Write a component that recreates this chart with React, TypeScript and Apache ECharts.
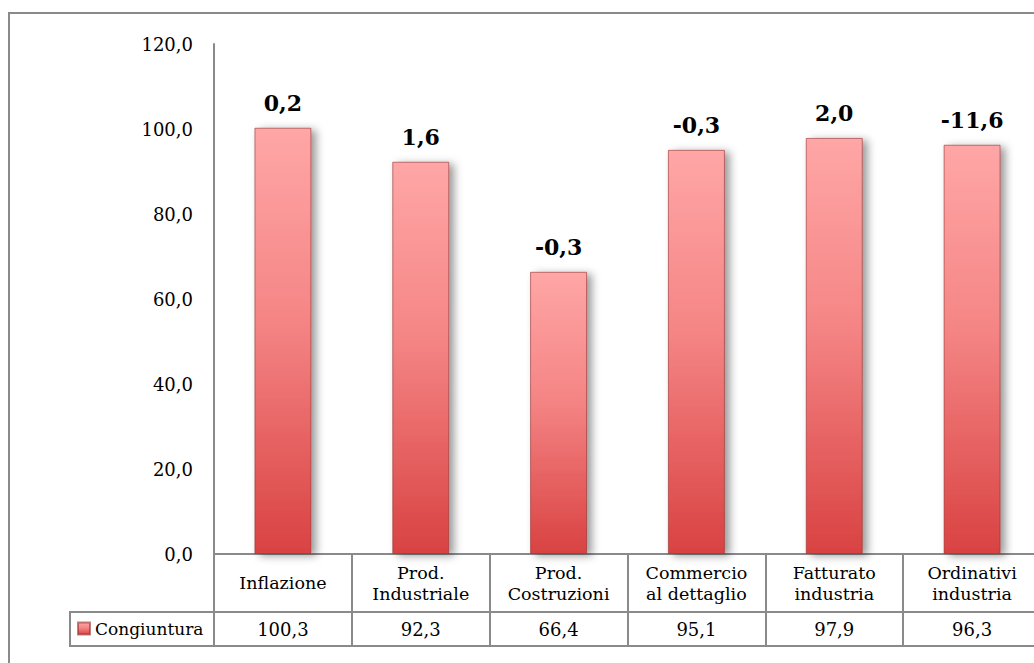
import React, { useEffect, useRef } from "react";
import * as echarts from "echarts";

const categories = [
  "Inflazione",
  "Prod.\nIndustriale",
  "Prod.\nCostruzioni",
  "Commercio\nal dettaglio",
  "Fatturato\nindustria",
  "Ordinativi\nindustria",
];
const values = [100.3, 92.3, 66.4, 95.1, 97.9, 96.3];
const changes = [0.2, 1.6, -0.3, -0.3, 2.0, -11.6];
const seriesName = "Congiuntura";
const yTicks = { min: 0, max: 120, interval: 20 };

const fmt = (v: number) => v.toFixed(1).replace(".", ",");
const FONT = "'DejaVu Serif', serif";
const LINE = "#8a8a8a";

export default function App() {
  const ref = useRef<HTMLDivElement>(null);
  useEffect(() => {
    if (!ref.current) return;
    const chart = echarts.init(ref.current, null, { renderer: "svg" });
    const gradient = new echarts.graphic.LinearGradient(0, 0, 0, 1, [
      { offset: 0, color: "#FFA6A6" },
      { offset: 0.45, color: "#F58585" },
      { offset: 1, color: "#D94242" },
    ]);
    chart.setOption({
      animation: false,
      backgroundColor: "#ffffff",
      grid: { left: 214, top: 44, width: 827, height: 510 },
      legend: {
        data: [seriesName],
        left: 77,
        top: 620,
        padding: 0,
        itemWidth: 12,
        itemHeight: 12,
        icon: "rect",
        textStyle: { fontFamily: FONT, fontSize: 17, color: "#000" },
      },
      xAxis: [
        {
          type: "category",
          data: categories,
          axisLine: { show: true, lineStyle: { color: LINE, width: 2 } },
          axisTick: { show: true, length: 92, alignWithLabel: false, lineStyle: { color: LINE, width: 2 } },
          axisLabel: {
            interval: 0,
            margin: 29,
            verticalAlign: "middle",
            lineHeight: 21,
            fontFamily: FONT,
            fontSize: 17.5,
            color: "#000",
          },
        },
        {
          type: "category",
          data: categories,
          position: "bottom",
          offset: 58,
          axisLine: { show: true, lineStyle: { color: LINE, width: 2 } },
          axisTick: { show: false },
          axisLabel: {
            interval: 0,
            margin: 17,
            verticalAlign: "middle",
            fontFamily: FONT,
            fontSize: 18,
            color: "#000",
            formatter: (_v: string, i: number) => fmt(values[i]),
          },
        },
        {
          type: "category",
          data: categories,
          position: "bottom",
          offset: 92,
          axisLine: { show: true, lineStyle: { color: LINE, width: 2 } },
          axisTick: { show: false },
          axisLabel: { show: false },
        },
      ],
      yAxis: {
        type: "value",
        min: yTicks.min,
        max: yTicks.max,
        interval: yTicks.interval,
        axisLine: { show: true, lineStyle: { color: LINE, width: 2 } },
        axisTick: { show: false },
        splitLine: { show: false },
        axisLabel: {
          margin: 21,
          fontFamily: FONT,
          fontSize: 18,
          color: "#000",
          formatter: (v: number) => fmt(v),
        },
      },
      series: [
        {
          name: seriesName,
          type: "bar",
          xAxisIndex: 0,
          data: values,
          barWidth: 57,
          itemStyle: {
            color: gradient,
            borderColor: "rgba(150,45,45,0.6)",
            borderWidth: 1,
            shadowColor: "rgba(0,0,0,0.4)",
            shadowBlur: 8,
            shadowOffsetX: 5,
            shadowOffsetY: 2,
          },
          label: {
            show: true,
            position: "top",
            distance: 14,
            fontFamily: FONT,
            fontWeight: "bold",
            fontSize: 22,
            color: "#000",
            formatter: (p: any) => fmt(changes[p.dataIndex]),
          },
        },
      ],
      graphic: [
        {
          type: "rect",
          shape: { x: 9, y: 13, width: 1060, height: 670 },
          style: { fill: "none", stroke: LINE, lineWidth: 2 },
          silent: true,
        },
        {
          type: "line",
          shape: { x1: 70, y1: 612, x2: 214, y2: 612 },
          style: { stroke: LINE, lineWidth: 2 },
        },
        {
          type: "line",
          shape: { x1: 70, y1: 646, x2: 214, y2: 646 },
          style: { stroke: LINE, lineWidth: 2 },
        },
        {
          type: "line",
          shape: { x1: 70, y1: 611, x2: 70, y2: 647 },
          style: { stroke: LINE, lineWidth: 2 },
        },
      ],
    });
    return () => chart.dispose();
  }, []);
  return (
    <div style={{ position: "fixed", left: 0, top: 0, width: 1034, height: 663, overflow: "hidden" }}>
      <div ref={ref} style={{ width: 1050, height: 663 }} />
    </div>
  );
}
